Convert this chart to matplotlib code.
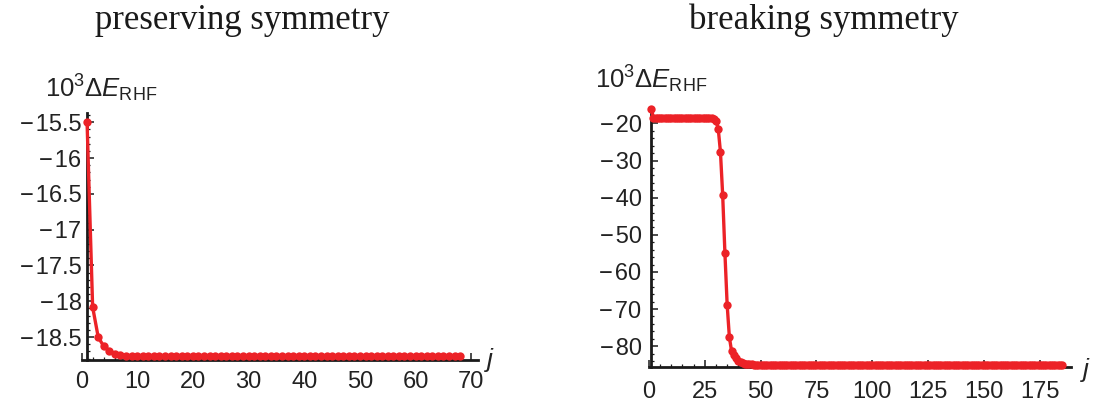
import matplotlib
matplotlib.use("Agg")
import matplotlib.pyplot as plt
from matplotlib.ticker import MultipleLocator, FuncFormatter

# ---------------- data ----------------
titles = ["preserving symmetry", "breaking symmetry"]
ylabel = r"$\mathregular{10^3}\Delta E_{\mathregular{RHF}}$"
xlabel = "j"

# preserving symmetry: j = 1..68
j_pres = list(range(1, 69))
e_pres = ([-15.50, -18.08, -18.50, -18.63, -18.69, -18.73, -18.75, -18.76]
          + [-18.77] * 60)

# breaking symmetry: j = 1..185
j_break = list(range(1, 186))
e_break = ([-16.0]
           + [-18.5] * 27
           + [-18.8, -19.3, -21.4, -27.7, -39.3, -54.9, -68.8, -77.6, -81.4,
              -82.5, -83.3, -83.9, -84.3, -84.6, -84.7, -84.8, -84.9, -84.9]
           + [-85.0] * 139)

# ---------------- style ----------------
plt.rcParams["font.family"] = ["Liberation Sans", "DejaVu Sans"]
plt.rcParams["mathtext.fontset"] = "custom"
plt.rcParams["mathtext.rm"] = "Liberation Sans"
plt.rcParams["mathtext.it"] = "Liberation Sans:italic"
plt.rcParams["mathtext.bf"] = "Liberation Sans:bold"

W, H = 1098, 407
fig = plt.figure(figsize=(W / 100, H / 100), dpi=100)

RED = "#EC2227"
AXC = "#1a1a1a"
TICKFS = 17


def px_rect(x0, x1, ytop, ybot):
    return [x0 / W, 1 - ybot / H, (x1 - x0) / W, (ybot - ytop) / H]


def fmt(v, pos):
    s = "{:g}".format(round(v, 3))
    if s.startswith("-"):
        s = "\u2212\u200a" + s[1:]
    return s


def style_axes(ax, xlim, ylim, xmaj, xmin, ymaj, ymin, ypad, xpad):
    ax.set_xlim(*xlim)
    ax.set_ylim(*ylim)
    for s in ("top", "right"):
        ax.spines[s].set_visible(False)
    ax.spines["left"].set_position(("data", 1))
    for s in ("left", "bottom"):
        ax.spines[s].set_linewidth(2.0)
        ax.spines[s].set_color(AXC)
    ax.xaxis.set_major_locator(MultipleLocator(xmaj))
    ax.xaxis.set_minor_locator(MultipleLocator(xmin))
    ax.yaxis.set_major_locator(MultipleLocator(ymaj))
    ax.yaxis.set_minor_locator(MultipleLocator(ymin))
    ax.yaxis.set_major_formatter(FuncFormatter(fmt))
    ax.tick_params(which="both", direction="in", color=AXC, labelsize=TICKFS,
                   labelcolor="#222222")
    ax.tick_params(which="major", length=5, width=1.1)
    ax.tick_params(which="minor", length=2.5, width=0.9)
    ax.tick_params(axis="y", pad=ypad)
    ax.tick_params(axis="x", pad=xpad)
    ax.patch.set_visible(False)


# left panel
ax1 = fig.add_axes(px_rect(81.5, 478, 113, 360))
ax1.plot(j_pres, e_pres, "-o", color=RED, lw=2.4, ms=6, mew=0,
         clip_on=False, zorder=3)
style_axes(ax1, (0, 71.2), (-18.82, -15.37), 10, 2, 0.5, 0.1, ypad=4, xpad=8)

# right panel
ax2 = fig.add_axes(px_rect(649, 1071, 106.7, 367))
ax2.plot(j_break, e_break, "-o", color=RED, lw=2.4, ms=6, mew=0,
         clip_on=False, zorder=3)
style_axes(ax2, (0, 189), (-85.6, -15.5), 25, 5, 10, 2, ypad=7, xpad=10)

# titles
for txt, xc in zip(titles, (242.5, 824)):
    fig.text(xc / W, 1 - 29 / H, txt, ha="center", va="baseline",
             fontsize=25, family="Liberation Serif", color="#1a1a1a")

# y labels
fig.text(45 / W, 1 - 97 / H, ylabel, ha="left", va="baseline",
         fontsize=18.5, color="#222222")
fig.text(595 / W, 1 - 88 / H, ylabel, ha="left", va="baseline",
         fontsize=18.5, color="#222222")

# x labels (j)
fig.text(487 / W, 1 - 367 / H, xlabel, ha="left", va="baseline",
         fontsize=TICKFS + 2, style="italic", color="#222222")
fig.text(1083 / W, 1 - 377 / H, xlabel, ha="left", va="baseline",
         fontsize=TICKFS + 2, style="italic", color="#222222")

fig.savefig("out.png", dpi=100)
